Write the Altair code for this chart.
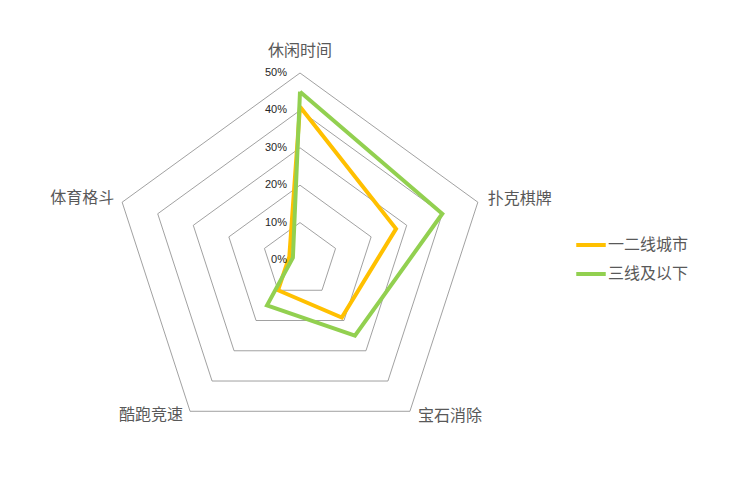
import math
import altair as alt
import pandas as pd

# ---- data ----
categories = ["休闲时间", "扑克棋牌", "宝石消除", "酷跑竞速", "体育格斗"]
series_names = ["一二线城市", "三线及以下"]
tier12_values = [41, 27, 19, 10, 3]
tier3_values = [45, 40, 25, 15, 2]
grid_levels = [10, 20, 30, 40, 50]
tick_levels = [0, 10, 20, 30, 40, 50]
colors = ["#FFC000", "#92D050"]

# ---- layout ----
W, H = 700, 470
CX, CY = 292, 252          # centre of radar in plot coordinates
PX_PER_UNIT = 3.74         # pixels per 1 %
N = len(categories)

x_dom = [-CX / PX_PER_UNIT, (W - CX) / PX_PER_UNIT]
y_dom = [-(H - CY) / PX_PER_UNIT, CY / PX_PER_UNIT]

rows = []
for s, vals in zip(series_names, [tier12_values, tier3_values]):
    for i, (c, v) in enumerate(zip(categories, vals)):
        rows.append({"series": s, "category": c, "idx": i, "value": v})
    rows.append({"series": s, "category": categories[0], "idx": N, "value": vals[0]})
series_df = pd.DataFrame(rows)

grid_rows = []
for lv in grid_levels:
    for k in range(N + 1):
        grid_rows.append({"level": lv, "idx": k, "value": lv})
grid_df = pd.DataFrame(grid_rows)

tick_df = pd.DataFrame({"level": tick_levels, "label": [f"{t}%" for t in tick_levels]})
cat_df = pd.DataFrame({"category": categories, "idx": list(range(N)), "value": [max(grid_levels)] * N})

ang = f"datum.idx * 2 * PI / {N}"
xs = alt.Scale(domain=x_dom, nice=False, zero=False)
ys = alt.Scale(domain=y_dom, nice=False, zero=False)

def polar(ch):
    return ch.transform_calculate(
        px=f"datum.value * sin({ang})", py=f"datum.value * cos({ang})"
    )

grid = polar(alt.Chart(grid_df)).mark_line(
    color="#898989", strokeWidth=0.8
).encode(
    x=alt.X("px:Q", scale=xs, axis=None),
    y=alt.Y("py:Q", scale=ys, axis=None),
    detail="level:N",
    order="idx:Q",
)

ticks = alt.Chart(tick_df).mark_text(
    align="right", baseline="middle", dx=-13, fontSize=11,
    font="Liberation Sans", color="#262626"
).encode(
    x=alt.X("zero:Q", scale=xs, axis=None),
    y=alt.Y("level:Q", scale=ys, axis=None),
    text="label:N",
).transform_calculate(zero="0")

color_enc = alt.Color(
    "series:N",
    scale=alt.Scale(domain=series_names, range=colors),
    legend=alt.Legend(
        title=None, orient="none", legendX=566, legendY=220,
        symbolType="stroke", symbolSize=870, symbolStrokeWidth=4,
        labelFontSize=16, labelFont="Noto Sans CJK SC", labelColor="#595959",
        rowPadding=4, labelOffset=0,
    ),
)

def series_layer(name):
    return polar(alt.Chart(series_df)).transform_filter(
        alt.datum.series == name
    ).mark_line(strokeWidth=4).encode(
        x=alt.X("px:Q", scale=xs, axis=None),
        y=alt.Y("py:Q", scale=ys, axis=None),
        color=color_enc,
        order="idx:Q",
    )

label_style = {
    "休闲时间": dict(align="center", dx=0, dy=-22),
    "扑克棋牌": dict(align="left", dx=10, dy=-3),
    "宝石消除": dict(align="left", dx=8, dy=5),
    "酷跑竞速": dict(align="right", dx=-7, dy=4),
    "体育格斗": dict(align="right", dx=-8, dy=-4),
}

label_layers = []
for c in categories:
    st = label_style[c]
    label_layers.append(
        polar(alt.Chart(cat_df)).transform_filter(alt.datum.category == c).mark_text(
            baseline="middle", fontSize=16, font="Noto Sans CJK SC",
            color="#595959", **st
        ).encode(
            x=alt.X("px:Q", scale=xs, axis=None),
            y=alt.Y("py:Q", scale=ys, axis=None),
            text="category:N",
        )
    )

chart = alt.layer(
    grid, *[series_layer(s) for s in series_names], ticks, *label_layers
).properties(width=W, height=H, padding=0).configure_view(strokeWidth=0)

chart.save("out.html", embed_options={"renderer": "svg", "actions": False})
